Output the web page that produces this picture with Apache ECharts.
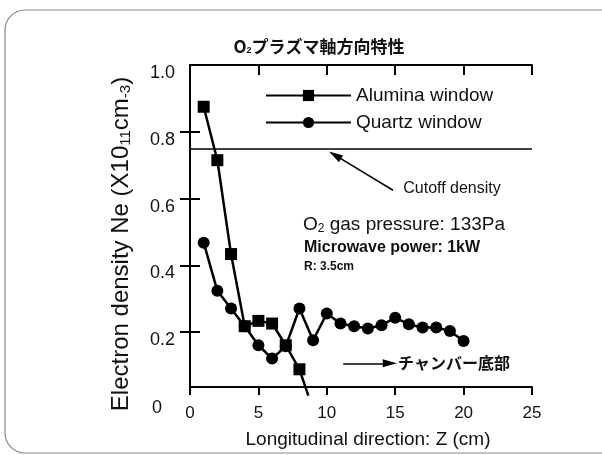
<!DOCTYPE html>
<html><head><meta charset="utf-8">
<script src="https://cdn.jsdelivr.net/npm/echarts@6/dist/echarts.min.js"></script>
<style>html,body{margin:0;padding:0;background:#fff}#c{width:602px;height:455px}</style>
</head><body><div id="c"></div>
<script>
const aluminaZ = [1, 2, 3, 4, 5, 6, 7, 8, 8.65];
const aluminaNe = [0.875, 0.715, 0.434, 0.218, 0.234, 0.226, 0.161, 0.089, 0.01];
const quartzZ = [1,2,3,4,5,6,7,8,9,10,11,12,13,14,15,16,17,18,19,20];
const quartzNe = [0.468,0.324,0.271,0.218,0.161,0.121,0.158,0.271,0.176,0.256,0.226,0.218,0.211,0.221,0.243,0.224,0.214,0.214,0.204,0.174];
const cutoffDensity = 0.75;
const yTickValues = [0.2, 0.4, 0.6, 0.8];
const yMin = 0.036, yMax = 1.0;
const yLabelValues = [yMin, 0.2, 0.4, 0.6, 0.8, 1.0];
const cutoffArrow = [[14.84, 0.625], [10.6, 0.73]];
const chamberArrow = [[11.2, 0.107], [14.6, 0.107]];

const FF = "'Liberation Sans', Arial, 'Noto Sans CJK JP', sans-serif";
const JF = "'Noto Sans CJK JP', 'Liberation Sans', sans-serif";

const alumina = aluminaZ.map((z, i) => i === aluminaZ.length - 1 ? {value: [z, aluminaNe[i]], symbol: 'none'} : [z, aluminaNe[i]]);
const quartz = quartzZ.map((z, i) => [z, quartzNe[i]]);

const chart = echarts.init(document.getElementById('c'), null, {renderer: 'canvas'});
const axisLine = {show: true, lineStyle: {color: '#000', width: 2}};
chart.setOption({
  animation: false,
  backgroundColor: '#fff',
  title: {
    text: '{a|O}{s|2}{a|プラズマ軸方向特性}',
    left: 314, top: 33, textAlign: 'center',
    textStyle: {rich: {
      a: {fontFamily: JF, fontSize: 17, fontWeight: 'bold', color: '#111'},
      s: {fontFamily: FF, fontSize: 9, fontWeight: 'bold', color: '#111', verticalAlign: 'bottom'}
    }}
  },
  grid: {left: 190, right: 70, top: 65, bottom: 68},
  legend: {
    data: ['Alumina window', 'Quartz window'],
    orient: 'vertical', left: 265, top: 86, padding: 0,
    itemWidth: 85, itemHeight: 14, itemGap: 8,
    textStyle: {fontFamily: FF, fontSize: 19, color: '#111'}
  },
  xAxis: [{
    type: 'value', min: 0, max: 25, interval: 5, position: 'bottom',
    name: 'Longitudinal direction: Z (cm)', nameLocation: 'middle', nameGap: 43,
    nameTextStyle: {fontFamily: FF, fontSize: 19, color: '#111', padding: [0, 0, 0, 14]},
    axisLine: axisLine,
    axisTick: {show: true, inside: false, length: 8, lineStyle: {color: '#000', width: 2}},
    axisLabel: {fontFamily: FF, fontSize: 17, color: '#111', margin: 18},
    splitLine: {show: false}
  }, {
    type: 'value', min: 0, max: 25, interval: 5, position: 'top',
    axisLine: axisLine,
    axisTick: {show: true, inside: true, length: 10, lineStyle: {color: '#000', width: 2}},
    axisLabel: {show: false}, splitLine: {show: false}
  }],
  yAxis: [{
    type: 'value', min: yMin, max: yMax, position: 'left',
    name: '{a|Electron density Ne (X10}{s|11}{a|cm}{s|-3}{a|)}',
    nameLocation: 'middle', nameGap: 57, nameRotate: 90,
    nameTextStyle: {padding: [0, 36, 0, 0], rich: {
      a: {fontFamily: FF, fontSize: 24, color: '#111'},
      s: {fontFamily: FF, fontSize: 15, color: '#111', verticalAlign: 'bottom'}
    }},
    axisLine: axisLine,
    axisTick: {show: true, inside: true, length: 10, customValues: yTickValues, lineStyle: {color: '#000', width: 2}},
    axisLabel: {
      customValues: yLabelValues, margin: 15,
      formatter: v => Math.abs(v - yMin) < 1e-6 ? '{z|0}' : '{n|' + v.toFixed(1) + '}',
      rich: {
        n: {fontFamily: FF, fontSize: 18, color: '#111', padding: [16, 0, 0, 0]},
        z: {fontFamily: FF, fontSize: 18, color: '#111', padding: [42, 13, 0, 0]}
      }
    },
    splitLine: {show: false}
  }, {
    type: 'value', min: yMin, max: yMax, position: 'right',
    axisLine: axisLine,
    axisTick: {show: true, inside: true, length: 10, customValues: yTickValues, lineStyle: {color: '#000', width: 2}},
    axisLabel: {show: false}, splitLine: {show: false}
  }],
  series: [{
    name: 'Alumina window', type: 'line', data: alumina, clip: false,
    symbol: 'rect', symbolSize: 12,
    lineStyle: {color: '#000', width: 2.5}, itemStyle: {color: '#000'}
  }, {
    name: 'Quartz window', type: 'line', data: quartz,
    symbol: 'circle', symbolSize: 12,
    lineStyle: {color: '#000', width: 2.5}, itemStyle: {color: '#000'},
    markLine: {
      silent: true, animation: false, symbol: ['none', 'none'],
      label: {show: false},
      lineStyle: {color: '#000', width: 1.5, type: 'solid'},
      data: [
        {yAxis: cutoffDensity},
        [{coord: cutoffArrow[0], symbol: 'none'}, {coord: cutoffArrow[1], symbol: 'triangle', symbolSize: [8, 14]}],
        [{coord: chamberArrow[0], symbol: 'none'}, {coord: chamberArrow[1], symbol: 'triangle', symbolSize: [8, 14]}]
      ]
    }
  }],
  graphic: [
    {type: 'rect', shape: {x: 5, y: 10, width: 620, height: 443, r: 20}, style: {fill: 'none', stroke: '#888', lineWidth: 1.2}, z: -10},
    {type: 'text', x: 452, y: 189, style: {text: 'Cutoff density', font: '16px ' + FF, fill: '#111', align: 'center', verticalAlign: 'middle', textAlign: 'center', textVerticalAlign: 'middle'}},
    {type: 'text', x: 303, y: 225, style: {text: '{a|O}{s|2}{a| gas pressure: 133Pa}', fill: '#111', align: 'left', verticalAlign: 'middle', textAlign: 'left', textVerticalAlign: 'middle',
      rich: {a: {fontFamily: FF, fontSize: 19, fill: '#111'}, s: {fontFamily: FF, fontSize: 12, fill: '#111', verticalAlign: 'bottom'}}}},
    {type: 'text', x: 304, y: 248, style: {text: 'Microwave power: 1kW', font: 'bold 16px ' + FF, fill: '#111', align: 'left', verticalAlign: 'middle', textAlign: 'left', textVerticalAlign: 'middle'}},
    {type: 'text', x: 304, y: 267, style: {text: 'R: 3.5cm', font: 'bold 12px ' + FF, fill: '#111', align: 'left', verticalAlign: 'middle', textAlign: 'left', textVerticalAlign: 'middle'}},
    {type: 'text', x: 398, y: 363, style: {text: 'チャンバー底部', font: 'bold 16px ' + JF, fill: '#111', align: 'left', verticalAlign: 'middle', textAlign: 'left', textVerticalAlign: 'middle'}}
  ]
});
</script></body></html>
